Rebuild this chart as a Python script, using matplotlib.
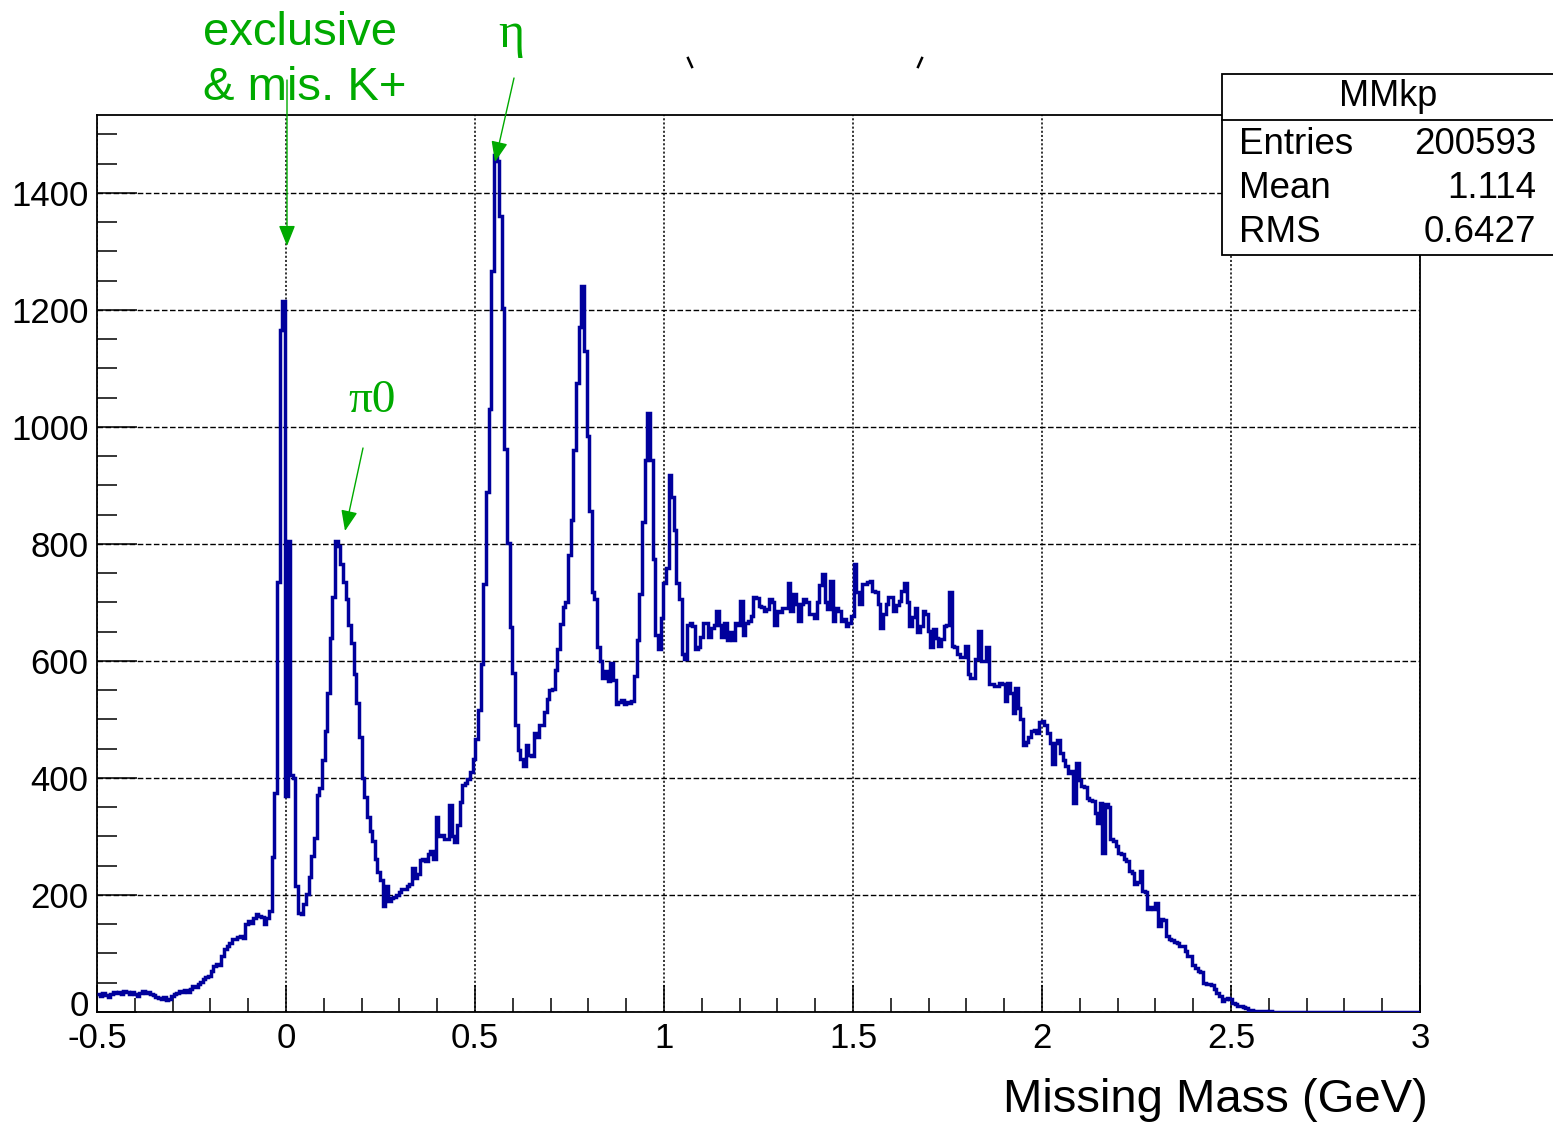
import numpy as np
import matplotlib.pyplot as plt
import matplotlib.transforms as mtransforms
from matplotlib.patches import Rectangle, FancyArrowPatch
from matplotlib.lines import Line2D

plt.rcParams['font.family'] = ['Liberation Sans', 'DejaVu Sans']
plt.rcParams['lines.scale_dashes'] = False

# histogram MMkp : 500 bins from -0.5 to 3 GeV
x_lo, x_hi, n_bins = -0.5, 3.0, 500
counts = [
    31, 27, 33, 29, 26, 30, 35, 32, 34, 30,
    36, 34, 31, 35, 30, 28, 32, 36, 33, 34,
    31, 29, 26, 24, 22, 25, 20, 23, 27, 30,
    33, 36, 34, 38, 35, 40, 44, 42, 48, 52,
    56, 60, 62, 70, 78, 82, 80, 95, 108, 112,
    118, 125, 124, 128, 130, 126, 150, 155, 152, 160,
    168, 164, 162, 150, 160, 172, 265, 375, 735, 1165,
    1215, 370, 805, 405, 400, 215, 170, 168, 185, 202,
    230, 266, 298, 371, 383, 431, 480, 545, 640, 710,
    805, 796, 765, 735, 705, 662, 630, 578, 528, 470,
    400, 368, 334, 309, 292, 262, 240, 226, 182, 216,
    190, 194, 196, 200, 205, 211, 210, 216, 218, 246,
    229, 235, 260, 262, 258, 270, 276, 262, 334, 300,
    302, 295, 296, 354, 300, 290, 320, 359, 388, 392,
    398, 410, 432, 467, 516, 594, 732, 889, 1031, 1267,
    1464, 1455, 1360, 1203, 963, 801, 658, 580, 491, 447,
    432, 420, 457, 440, 437, 476, 470, 491, 490, 512,
    535, 550, 552, 584, 620, 663, 692, 700, 781, 840,
    960, 1075, 1170, 1240, 1130, 984, 857, 718, 706, 624,
    600, 571, 583, 565, 596, 567, 526, 529, 534, 527,
    530, 528, 532, 575, 636, 714, 837, 943, 1024, 943,
    775, 645, 620, 673, 734, 759, 918, 881, 824, 734,
    706, 612, 604, 661, 665, 660, 620, 624, 641, 665,
    665, 641, 657, 661, 686, 661, 641, 665, 636, 650,
    636, 665, 662, 702, 645, 665, 668, 677, 710, 708,
    694, 692, 686, 688, 706, 700, 661, 686, 684, 690,
    690, 734, 686, 714, 698, 669, 698, 706, 700, 680,
    680, 674, 700, 729, 749, 700, 689, 737, 669, 690,
    686, 669, 672, 660, 665, 677, 766, 717, 697, 731,
    731, 735, 737, 720, 718, 697, 657, 680, 697, 709,
    709, 686, 695, 703, 720, 734, 700, 660, 675, 691,
    649, 660, 686, 680, 651, 623, 654, 640, 626, 637,
    660, 662, 717, 626, 624, 611, 606, 606, 626, 577,
    571, 571, 603, 651, 600, 600, 623, 560, 560, 557,
    557, 563, 560, 531, 563, 545, 511, 554, 520, 500,
    457, 462, 470, 480, 482, 477, 495, 498, 490, 477,
    460, 423, 460, 465, 443, 430, 420, 409, 412, 357,
    426, 397, 386, 384, 366, 362, 360, 340, 323, 357,
    272, 355, 350, 295, 293, 284, 272, 270, 261, 258,
    241, 238, 218, 222, 241, 207, 205, 176, 180, 176,
    187, 147, 159, 158, 130, 125, 123, 119, 118, 113,
    112, 104, 96, 95, 80, 76, 70, 68, 50, 47,
    47, 46, 40, 33, 28, 19, 22, 24, 23, 16,
    14, 11, 10, 8, 6, 4, 3, 2, 2, 1,
    1, 1, 0, 1, 0, 0, 0, 0, 0, 0,
    0, 0, 0, 0, 0, 0, 0, 0, 0, 0,
    0, 0, 0, 0, 0, 0, 0, 0, 0, 0,
    0, 0, 0, 0, 0, 0, 0, 0, 0, 0,
    0, 0, 0, 0, 0, 0, 0, 0, 0, 0,
    0, 0, 0, 0, 0, 0, 0, 0, 0, 0,
]

x_ticks = [-0.5, 0, 0.5, 1, 1.5, 2, 2.5, 3]
x_ticklabels = ["-0.5", "0", "0.5", "1", "1.5", "2", "2.5", "3"]
y_ticks = [0, 200, 400, 600, 800, 1000, 1200, 1400]
x_title = "Missing Mass (GeV)"

stat_title = "MMkp"
stat_names = ["Entries", "Mean", "RMS"]
stat_values = ["200593", "1.114", "0.6427"]

green = '#00aa00'
W, H = 1553, 1126


def fx(px):
    return px / W


def fy(py):
    return 1 - py / H


fig = plt.figure(figsize=(W / 100, H / 100), dpi=100)
ax = fig.add_axes([fx(97), fy(1012), fx(1420) - fx(97), fy(115) - fy(1012)])

edges = np.linspace(x_lo, x_hi, n_bins + 1)
ax.stairs(counts, edges, color='#00009c', lw=2.5, baseline=None, zorder=3)

ax.set_xlim(x_lo, x_hi)
ax.set_ylim(0, 1533)
ax.set_xticks(x_ticks)
ax.set_xticklabels(x_ticklabels)
ax.set_xticks(np.arange(-0.5, 3.01, 0.1), minor=True)
ax.set_yticks(y_ticks)
ax.set_yticks(np.arange(0, 1533, 50), minor=True)

ax.xaxis.grid(True, which='major', color='black', lw=1.1, ls=(0, (1.5, 1.5)))
ax.yaxis.grid(True, which='major', color='black', lw=1.0, ls=(0, (4, 1.8)))
ax.tick_params(axis='both', which='both', direction='in', width=1.1,
               labelsize=25, top=False, right=False)
ax.tick_params(axis='y', which='major', length=29, pad=6)
ax.tick_params(axis='y', which='minor', length=14.5)
ax.tick_params(axis='x', which='major', length=19.5, pad=7)
ax.tick_params(axis='x', which='minor', length=10)
for s in ax.spines.values():
    s.set_linewidth(1.3)

# the "0" on the y axis sits a bit higher in the original
zero_lab = ax.get_yticklabels()[0]
zero_lab.set_transform(zero_lab.get_transform() +
                       mtransforms.ScaledTranslation(0, 9 / 100, fig.dpi_scale_trans))

fig.text(fx(1428), fy(1100), x_title, ha='right', va='center', fontsize=34)

# stats box
fig.add_artist(Rectangle((fx(1222), fy(255)), fx(1570) - fx(1222), fy(74) - fy(255),
                         transform=fig.transFigure, fc='white', ec='black', lw=1.3))
fig.add_artist(Line2D([fx(1222), fx(1553)], [fy(120), fy(120)],
                      transform=fig.transFigure, color='black', lw=1.3))
fig.text(fx(1388), fy(97), stat_title, ha='center', va='center', fontsize=26)
for i, (name, val) in enumerate(zip(stat_names, stat_values)):
    yy = fy(145 + 44 * i)
    fig.text(fx(1239), yy, name, ha='left', va='center', fontsize=26.5)
    fig.text(fx(1536), yy, val, ha='right', va='center', fontsize=26.5)

# leftovers of the hidden title
fig.add_artist(Line2D([fx(688), fx(692)], [fy(58), fy(67)], transform=fig.transFigure,
                      color='black', lw=1.8))
fig.add_artist(Line2D([fx(922), fx(918)], [fy(58), fy(67)], transform=fig.transFigure,
                      color='black', lw=1.8))

# green annotations
fig.text(fx(203), fy(45), "exclusive", color=green, fontsize=34, va='baseline')
fig.text(fx(203), fy(100), "& mis. K+", color=green, fontsize=34, va='baseline')
fig.text(fx(511), fy(35), "η", color=green, fontsize=36, ha='center', va='center',
         family=['Liberation Serif', 'DejaVu Serif'])
fig.text(fx(372), fy(401), "π0", color=green, fontsize=34, ha='center', va='center',
         family=['Liberation Serif', 'DejaVu Serif'])

arrows = [((287, 80), (287, 246)), ((514, 78), (495, 162)), ((363, 448), (345, 531))]
for (x0, y0), (x1, y1) in arrows:
    fig.add_artist(FancyArrowPatch((fx(x0), fy(y0)), (fx(x1), fy(y1)),
                                   transform=fig.transFigure,
                                   arrowstyle='-|>,head_length=0.7,head_width=0.28',
                                   mutation_scale=18, color=green, lw=1.0,
                                   shrinkA=0, shrinkB=0))

fig.savefig('out.png', dpi=100)
